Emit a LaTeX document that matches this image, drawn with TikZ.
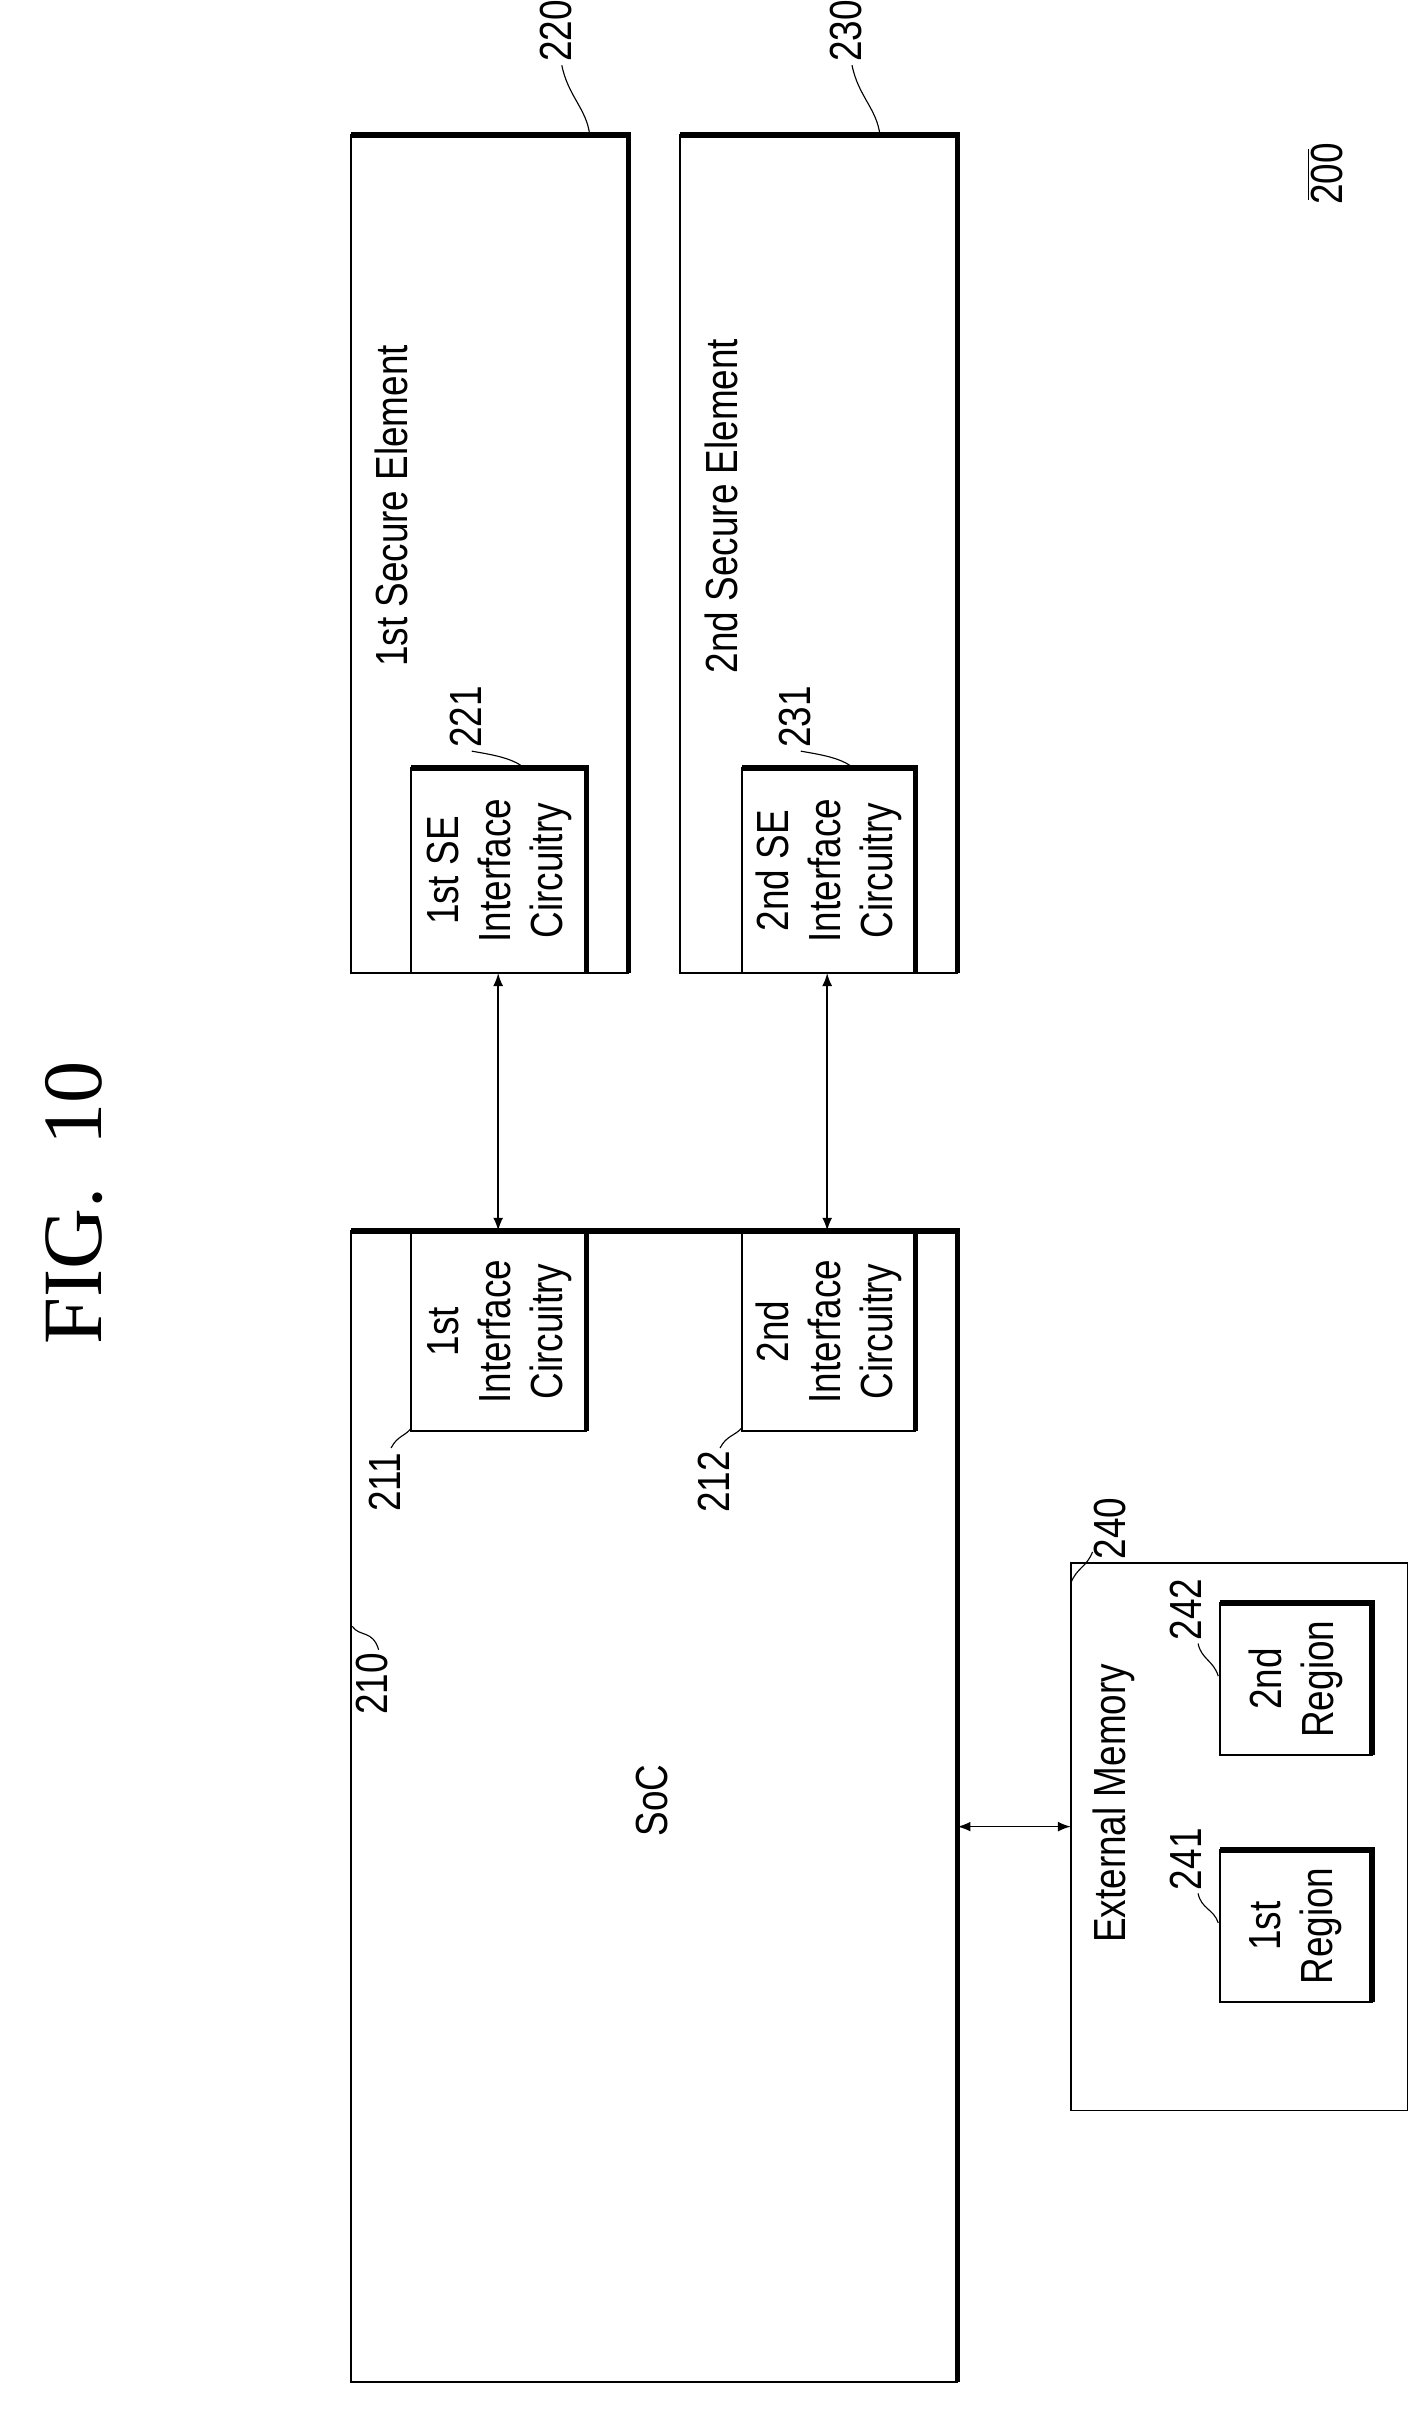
\documentclass[tikz,border=0pt]{standalone}
\usepackage{fontspec}
\setmainfont{Liberation Sans}[FakeStretch=0.82]
\newfontfamily\figfont{Liberation Serif}
\usepackage{tikz}
\begin{document}
\begin{tikzpicture}[x=0.0194cm, y=-0.0194cm,
  blk/.style={draw, line width=0.6pt},
  txt/.style={rotate=90, align=center, font=\fontsize{16}{18.5}\selectfont, inner sep=0pt},
  num/.style={rotate=90, font=\fontsize{16}{18}\selectfont, inner sep=1pt},
  lead/.style={line width=0.4pt},
  link/.style={line width=0.6pt, <->, >=latex}]
\useasboundingbox (0,0) rectangle (915,1560);
\newcommand{\blockbox}[5]{% name, x1, y1, x2, y2
  \draw[blk] (#2,#3) rectangle (#4,#5);
  \draw[line width=2pt] (#2,#3) -- (#4,#3) -- (#4,#5);
  \coordinate (#1) at (#2,#3);}
% title
\node[rotate=90, font=\figfont\fontsize{30}{32}\selectfont] (fig) at (48,775) {FIG.~~10};
\node[num] (n200) at (855,112) {200};
\draw (843,96) -- (843,129);
% boxes
\blockbox{se1}{226}{87}{405}{627}
\blockbox{se2}{438}{87}{617}{627}
\blockbox{soc}{226}{793}{617}{1535}
\blockbox{if1}{265}{495}{378}{627}
\blockbox{if2}{478}{495}{590}{627}
\blockbox{ic1}{265}{793}{378}{922}
\blockbox{ic2}{478}{793}{590}{922}
\draw[blk] (690,1007) rectangle (907,1360);
\blockbox{rg1}{786}{1192}{884}{1290}
\blockbox{rg2}{786}{1033}{884}{1131}
% texts
\node[txt] (t220) at (252,326) {1st Secure Element};
\node[txt] (t230) at (465,326) {2nd Secure Element};
\node[txt] (t221) at (322,561) {1st SE\\Interface\\Circuitry};
\node[txt] (t231) at (534,561) {2nd SE\\Interface\\Circuitry};
\node[txt] (t211) at (322,858) {1st\\Interface\\Circuitry};
\node[txt] (t212) at (534,858) {2nd\\Interface\\Circuitry};
\node[txt] (t210) at (420,1160) {SoC};
\node[txt] (t240) at (718,1162) {External Memory};
\node[txt] (t241) at (835,1241) {1st\\Region};
\node[txt] (t242) at (835,1082) {2nd\\Region};
% connectors
\coordinate (a1) at (321,627); \coordinate (b1) at (321,793);
\coordinate (a2) at (533,627); \coordinate (b2) at (533,793);
\coordinate (a3) at (617,1177); \coordinate (b3) at (690,1177);
\draw[link] (a1) -- (b1);
\draw[link] (a2) -- (b2);
\draw[link] (a3) -- (b3);
% reference numbers
\node[num] (n220) at (358,20) {220};
\draw[lead] (362,42) .. controls (366,62) and (378,70) .. (380,87);
\node[num] (n230) at (545,20) {230};
\draw[lead] (549,42) .. controls (553,62) and (565,70) .. (567,87);
\node[num] (n221) at (300,462) {221};
\draw[lead] (304,484) .. controls (315,486) and (330,488) .. (338,495);
\node[num] (n231) at (512,462) {231};
\draw[lead] (516,484) .. controls (527,486) and (542,488) .. (550,495);
\node[num] (n211) at (248,955) {211};
\draw[lead] (252,933) .. controls (256,925) and (262,925) .. (265,920);
\node[num] (n212) at (460,955) {212};
\draw[lead] (464,933) .. controls (468,925) and (474,925) .. (478,920);
\node[num] (n210) at (240,1085) {210};
\draw[lead] (244,1063) .. controls (240,1050) and (232,1055) .. (227,1048);
\node[num] (n240) at (715,985) {240};
\draw[lead] (704,1000) .. controls (700,1010) and (694,1010) .. (690,1020);
\node[num] (n241) at (764,1198) {241};
\draw[lead] (772,1220) .. controls (774,1230) and (782,1230) .. (785,1239);
\node[num] (n242) at (764,1037) {242};
\draw[lead] (772,1059) .. controls (774,1069) and (782,1070) .. (785,1080);
\end{tikzpicture}
\end{document}
